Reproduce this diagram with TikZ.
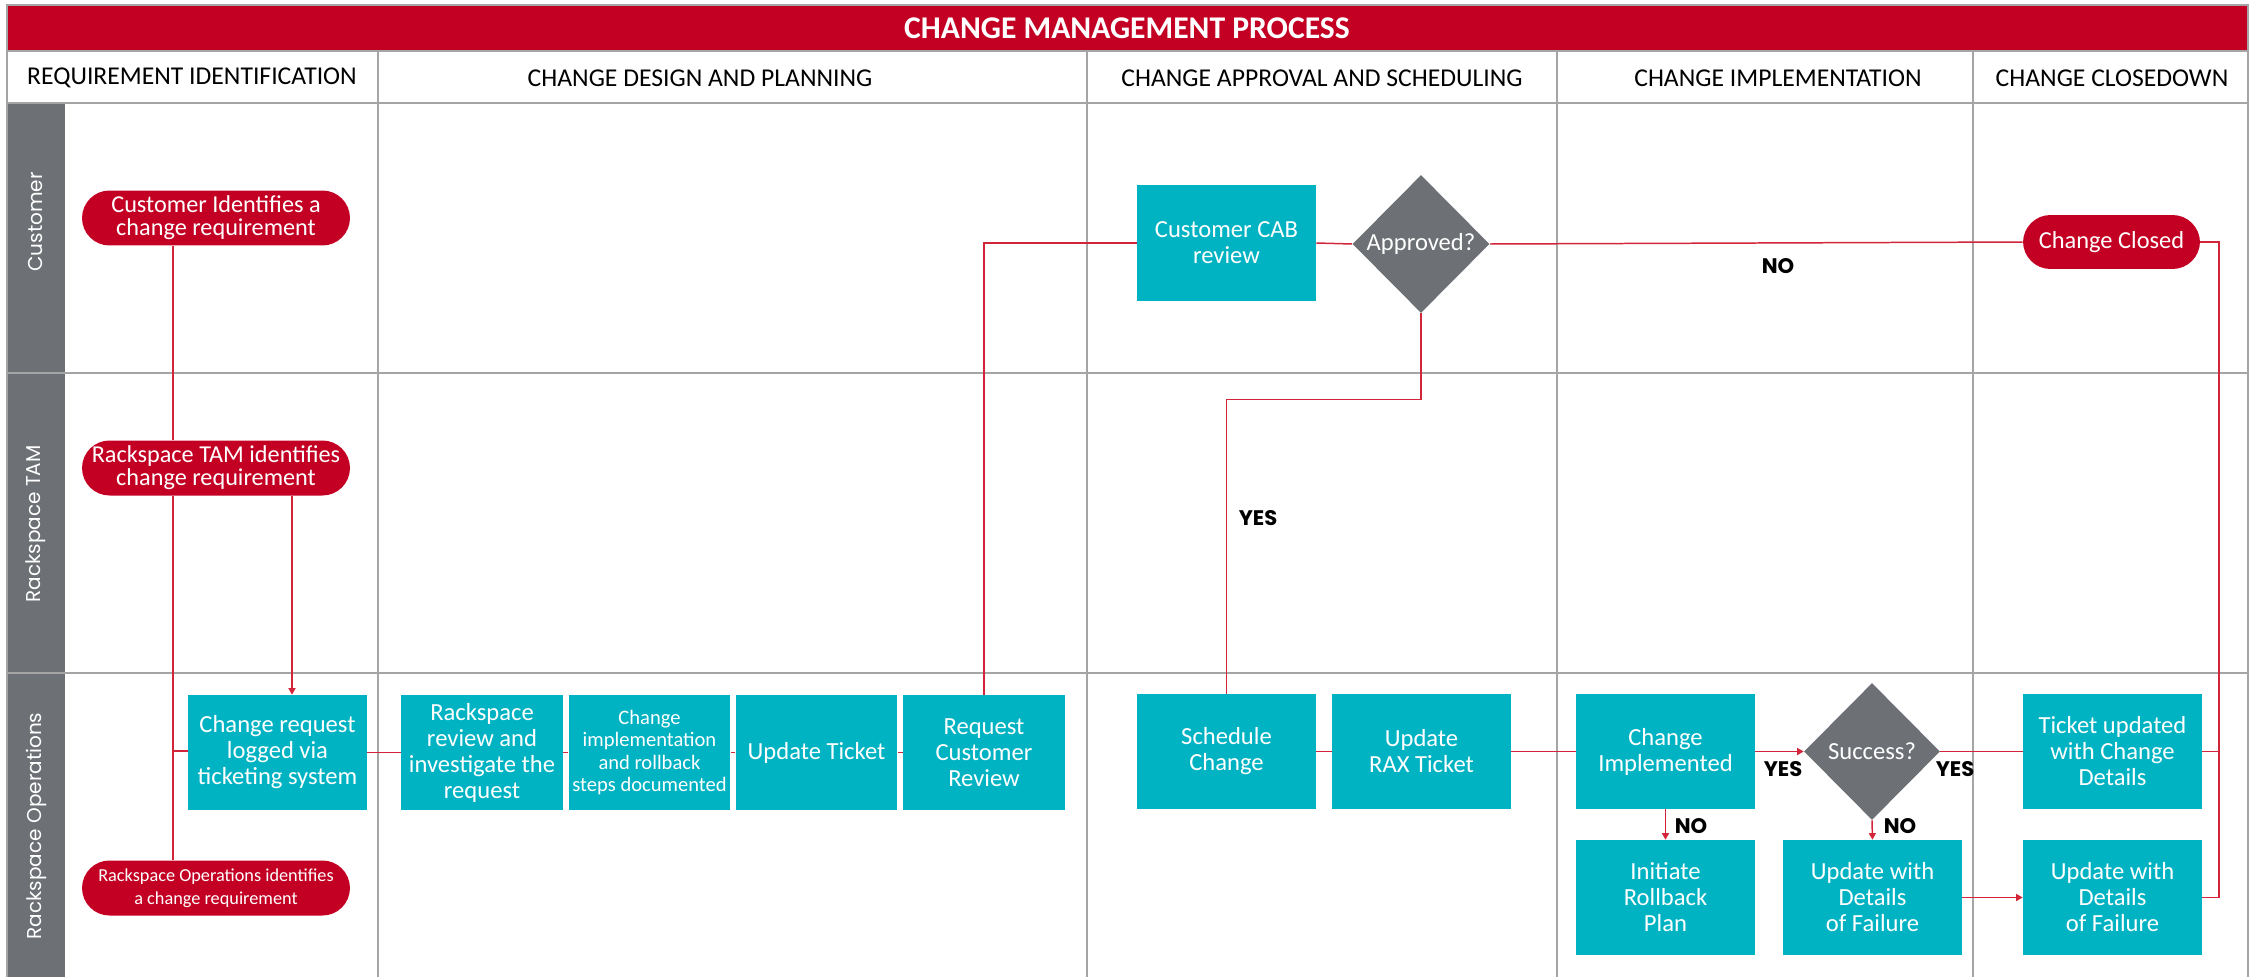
\documentclass[tikz,border=0pt]{standalone}
\usepackage{fontspec}
\setmainfont{Carlito}
\newfontfamily\lanefont{Poppins}
\usetikzlibrary{shapes.geometric,arrows.meta}
\definecolor{rackred}{HTML}{C30023}
\definecolor{rackteal}{HTML}{00B3C3}
\definecolor{rackgray}{HTML}{6D7075}
\definecolor{gridgray}{HTML}{A5A5A5}
\definecolor{flowred}{HTML}{D3253A}
\begin{document}
\begin{tikzpicture}[x=0.02cm,y=-0.02cm,
  rule/.style={draw=gridgray,line width=1.1pt},
  box/.style={fill=rackteal,text=white,minimum width=3.58cm,minimum height=2.3cm,align=center,inner sep=1pt,font=\fontsize{14}{14.8}\selectfont},
  narrow/.style={box,minimum width=3.24cm},
  pill/.style={fill=rackred,text=white,rounded corners=0.55cm,minimum width=5.36cm,minimum height=1.1cm,align=center,inner sep=1pt,font=\fontsize{13.8}{13.2}\selectfont},
  decision/.style={diamond,fill=rackgray,text=white,inner sep=0pt,minimum width=2.74cm,minimum height=2.76cm,font=\fontsize{14}{15}\selectfont},
  flow/.style={draw=flowred,line width=0.85pt},
  arr/.style={flow,-{Triangle[length=1.3mm,width=1.4mm]}},
  lbl/.style={font=\lanefont\bfseries\fontsize{12}{14}\selectfont},
  lane/.style={rotate=90,text=white,font=\lanefont\fontsize{11.4}{13}\selectfont},
  head/.style={font=\fontsize{14.6}{16}\selectfont}]
\useasboundingbox (0,0) rectangle (2255,977);
% frame, lanes and phases
\fill[rackred] (7,5) rectangle (2248,51);
\fill[rackgray] (7,103) rectangle (65,977);
\draw[rule] (7,977) -- (7,5) -- (2248,5) -- (2248,977);
\foreach \y in {51,103,373,673}
  \draw[rule] (7,\y) -- (2248,\y);
\foreach \x in {378,1087,1557,1973}
  \draw[rule] (\x,51) -- (\x,977);
\node[text=white,font=\bfseries\fontsize{18}{20}\selectfont] (title) at (1127,28) {CHANGE MANAGEMENT PROCESS};
\node[head] (hreq) at (192,78) {REQUIREMENT IDENTIFICATION};
\node[head] (hplan) at (700,78) {CHANGE DESIGN AND PLANNING};
\node[head] (happ) at (1322,78) {CHANGE APPROVAL AND SCHEDULING};
\node[head] (himp) at (1778,78) {CHANGE IMPLEMENTATION};
\node[head] (hclose) at (2112,78) {CHANGE CLOSEDOWN};
\node[lane] (lcust) at (36,222) {Customer};
\node[lane] (ltam) at (36,524) {Rackspace TAM};
\node[lane] (lops) at (36,826) {Rackspace Operations};
% steps
\node[pill] (cust) at (216,218) {Customer Identifies a\\change requirement};
\node[pill] (tam) at (216,468) {Rackspace TAM identifies\\change requirement};
\node[pill,font=\fontsize{10.4}{13}\selectfont] (ops) at (216,888) {Rackspace Operations identifies\\a change requirement};
\node[box] (logged) at (277.5,752.5) {Change request\\logged via\\ticketing system};
\node[narrow] (review) at (482,752.5) {Rackspace\\review and\\investigate the\\request};
\node[narrow,font=\fontsize{11.7}{12.6}\selectfont] (steps) at (649.5,752.5) {Change\\implementation\\and rollback\\steps documented};
\node[narrow] (upd) at (816.5,752.5) {Update Ticket};
\node[narrow] (req) at (984,752.5) {Request\\Customer\\Review};
\node[box,minimum height=2.32cm] (cab) at (1226.5,243) {Customer CAB\\review};
\node[decision] (appr) at (1421,244) {Approved?};
\node[box] (sched) at (1226.5,751.5) {Schedule\\Change};
\node[box] (rax) at (1421.5,751.5) {Update\\RAX Ticket};
\node[box] (impl) at (1665.5,751.5) {Change\\Implemented};
\node[decision,minimum width=2.72cm,minimum height=2.74cm] (succ) at (1872,751.5) {Success?};
\node[box] (roll) at (1665.5,897.5) {Initiate\\Rollback\\Plan};
\node[box] (fail1) at (1872.5,897.5) {Update with\\Details\\of Failure};
\node[box] (tick) at (2112.5,751.5) {Ticket updated\\with Change\\Details};
\node[box] (fail2) at (2112.5,897.5) {Update with\\Details\\of Failure};
\node[pill,minimum width=3.54cm,minimum height=1.08cm,font=\fontsize{13.9}{15}\selectfont] (closed) at (2111.5,242) {Change Closed};
% connectors
\coordinate (trunk) at (173,751);
\coordinate (tamdrop) at (292,0);
\coordinate (rail) at (2219,0);
\draw[flow] (cust.south -| trunk) -- (tam.north -| trunk);
\draw[flow] (tam.south -| trunk) -- (ops.north -| trunk);
\draw[flow] (trunk) -- (trunk -| logged.west);
\draw[arr] (tam.south -| tamdrop) -- (logged.north -| tamdrop);
\draw[flow] (logged.east) -- (review.west);
\draw[flow] (review.east) -- (steps.west);
\draw[flow] (steps.east) -- (upd.west);
\draw[flow] (upd.east) -- (req.west);
\draw[flow] (req.north) |- (cab.west);
\draw[flow] (cab.east) -- (appr.west);
\draw[flow] (appr.east) -- (closed.west);
\draw[flow] (appr.south) -- ++(0,86) -| (sched.north);
\draw[flow] (sched.east) -- (rax.west);
\draw[flow] (rax.east) -- (impl.west);
\draw[arr] (impl.east) -- (succ.west);
\draw[flow] (succ.east) -- (tick.west);
\draw[arr] (impl.south) -- (roll.north);
\draw[arr] (succ.south) -- (fail1.north);
\draw[arr] (fail1.east) -- (fail2.west);
\draw[flow] (closed.east) -| (rail |- fail2.east) -- (fail2.east);
\draw[flow] (tick.east) -- (tick.east -| rail);
\node[lbl] (no1) at (1778,266) {NO};
\node[lbl] (yes1) at (1258,518) {YES};
\node[lbl] (yes2) at (1783,769) {YES};
\node[lbl] (yes3) at (1955,769) {YES};
\node[lbl] (no2) at (1691,826) {NO};
\node[lbl] (no3) at (1900,826) {NO};
\end{tikzpicture}
\end{document}
